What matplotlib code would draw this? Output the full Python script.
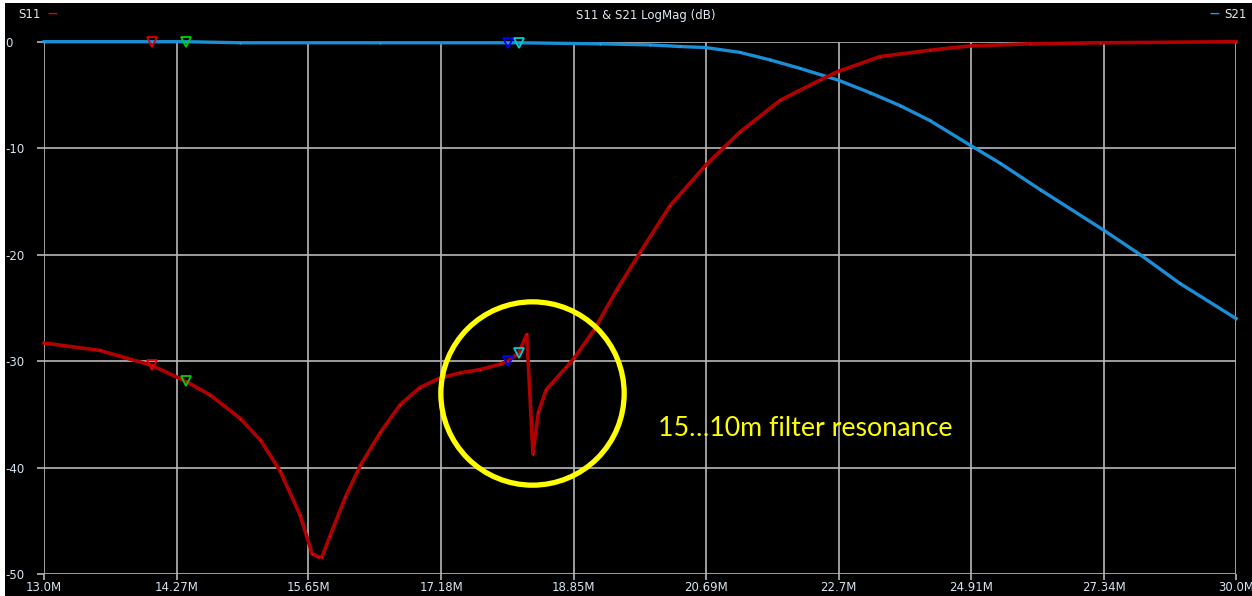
import numpy as np
import matplotlib
matplotlib.use('Agg')
import matplotlib.pyplot as plt

# S11 trace (MHz, dB)
s11_freq = [13.00, 13.52, 14.02, 14.36, 14.61, 14.92, 15.13, 15.34, 15.56, 15.69,
            15.76, 15.80, 15.89, 16.06, 16.23, 16.46, 16.69, 16.92, 17.16, 17.41,
            17.65, 17.90, 18.00, 18.14, 18.24, 18.32, 18.39, 18.49, 18.75, 18.86,
            19.12, 19.43, 19.75, 20.17, 20.68, 21.18, 21.79, 22.41, 22.69, 23.37,
            24.20, 24.89, 25.96, 27.27, 30.00]
s11_db = [-28.3, -29.0, -30.4, -31.9, -33.2, -35.4, -37.4, -40.3, -44.5, -48.1,
          -48.4, -48.4, -46.4, -42.8, -39.8, -36.7, -34.1, -32.5, -31.6, -31.1,
          -30.8, -30.3, -30.0, -29.2, -27.5, -38.7, -34.8, -32.7, -30.6, -29.7,
          -27.1, -23.3, -19.8, -15.4, -11.6, -8.5, -5.5, -3.6, -2.8, -1.4,
          -0.8, -0.4, -0.2, -0.1, 0.0]

# S21 trace (MHz, dB)
s21_freq = [13.00, 14.02, 14.36, 14.92, 16.46, 18.00, 18.14, 19.20, 19.89, 20.31,
            20.68, 21.18, 21.63, 22.09, 22.69, 23.21, 23.70, 24.20, 24.89, 25.42,
            26.15, 27.34, 28.05, 28.84, 30.00]
s21_db = [0.0, 0.0, 0.0, -0.1, -0.1, -0.1, -0.1, -0.2, -0.3, -0.45,
          -0.55, -1.0, -1.7, -2.5, -3.6, -4.8, -6.0, -7.4, -9.7, -11.4,
          -13.9, -17.7, -20.0, -22.7, -26.0]

# markers: frequency, S11 value, S21 value, colour
mk_freq = [14.02, 14.36, 18.00, 18.14]
mk_s11 = [-30.4, -31.9, -30.0, -29.2]
mk_s21 = [0.0, 0.0, -0.1, -0.1]
mk_col = ['#e00000', '#00d000', '#0000ff', '#00d0d0']

xticks = [13.0, 14.27, 15.65, 17.18, 18.85, 20.69, 22.7, 24.91, 27.34, 30.0]
xlabels = ['13.0M', '14.27M', '15.65M', '17.18M', '18.85M', '20.69M', '22.7M',
           '24.91M', '27.34M', '30.0M']
yticks = [0, -10, -20, -30, -40, -50]

W, H = 1252, 596
fig = plt.figure(figsize=(W / 100, H / 100), dpi=100, facecolor='white')
bg = fig.add_axes([5 / W, 0, 1 - 5 / W, 1 - 3 / H])
bg.set_facecolor('black')
bg.set_xticks([]); bg.set_yticks([])
for s in bg.spines.values():
    s.set_visible(False)

ax = fig.add_axes([44 / W, 22 / H, (1236 - 44) / W, (574 - 41.7) / H])
ax.set_facecolor('black')
ax.patch.set_alpha(0)
ax.set_xscale('log')
ax.set_xlim(13.0, 30.0)
ax.set_ylim(-50, 0)
ax.minorticks_off()
ax.set_xticks(xticks)
ax.set_xticklabels(xlabels)
ax.set_yticks(yticks)
ax.set_yticklabels([str(v) for v in yticks], ha='left')
ax.tick_params(axis='x', colors='#b8b8b8', labelcolor='#d8e4f0', length=4, width=1.2,
               labelsize=8.5, pad=1)
ax.tick_params(axis='y', colors='#b8b8b8', labelcolor='#d8e4f0', length=5, width=1.2,
               labelsize=8.5, pad=23)
ax.grid(True, color='#b8b8b8', lw=1.2)
for s in ax.spines.values():
    s.set_visible(False)

ax.plot(s21_freq, s21_db, color='#1a8fd6', lw=2.4, marker='.', ms=3,
        mfc='#2fa4ec', mec='none', clip_on=False, zorder=3)
ax.plot(s11_freq, s11_db, color='#b00000', lw=2.6, marker='.', ms=3,
        mfc='#e01010', mec='none', clip_on=False, zorder=4)

for f, a, b, c in zip(mk_freq, mk_s11, mk_s21, mk_col):
    ax.plot([f, f], [a, b], ls='none', marker='v', ms=7, mfc='none', mec=c,
            mew=1.3, clip_on=False, zorder=5)

# annotation
ax.plot([18.31], [-33.0], marker='o', ms=132, mfc='none', mec='#ffff00', mew=3.8,
        zorder=6)
ax.text(20.0, -36.3, '15\u202610m filter resonance', color='#ffff00',
        fontsize=19.3, family='Lato', va='center', ha='left')

fig.text(18 / W, 1 - 15 / H, 'S11', color='#e0e8f0', fontsize=8.5, va='center')
fig.text(47 / W, 1 - 14 / H, '\u2014', color='#e00000', fontsize=7, va='center',
         fontweight='bold')
fig.text(646 / W, 1 - 15 / H, 'S11 & S21 LogMag (dB)', color='#e0e8f0', fontsize=8.5,
         va='center', ha='center')
fig.text(1247 / W, 1 - 15 / H, 'S21', color='#e0e8f0', fontsize=8.5, va='center',
         ha='right')
fig.text(1219 / W, 1 - 14 / H, '\u2014', color='#1a9ff0', fontsize=7, va='center',
         ha='right', fontweight='bold')

fig.savefig('out.png', dpi=100, facecolor=fig.get_facecolor())
